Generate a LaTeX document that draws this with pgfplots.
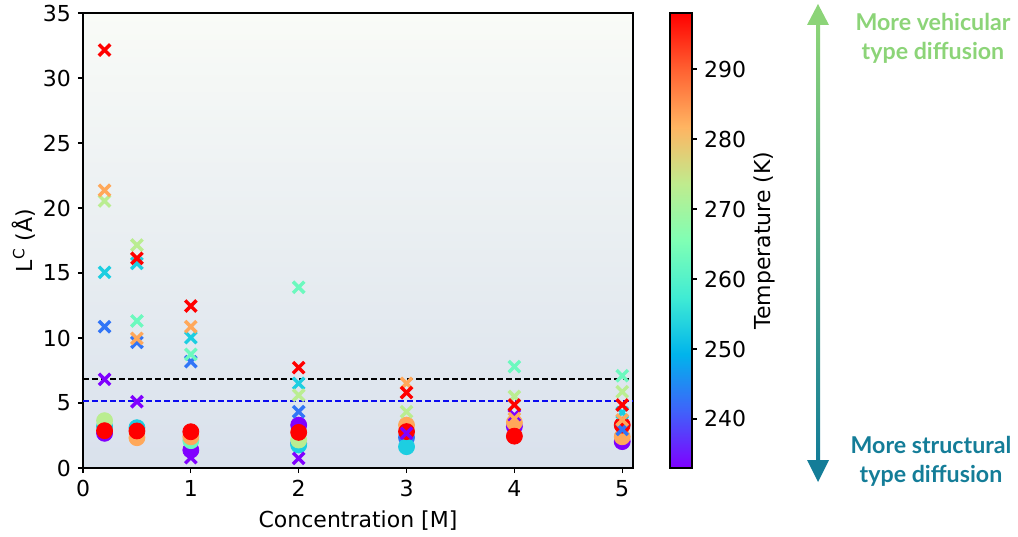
\documentclass[border=0pt]{standalone}
\usepackage{pgfplots}
\pgfplotsset{compat=1.18}
\usepackage{fontspec}
\setmainfont{DejaVu Sans}
\newfontfamily\annfont{Lato}
\definecolor{vehic}{RGB}{140,212,120}
\definecolor{struct}{RGB}{20,125,152}
\definecolor{bgtop}{RGB}{249,251,247}
\definecolor{bgmid}{RGB}{229,241,244}
\definecolor{bgbot}{RGB}{217,225,236}
\definecolor{dashblue}{RGB}{10,10,240}
\pgfplotsset{colormap={mplrainbow}{rgb=(0.5,0,1) rgb=(0.25,0.383,0.981) rgb=(0,0.707,0.924) rgb=(0.25,0.924,0.831) rgb=(0.5,1,0.707) rgb=(0.75,0.924,0.556) rgb=(1,0.707,0.383) rgb=(1,0.383,0.195) rgb=(1,0,0)}}

\pgfplotstableread{
x y T
0.2 2.67 233
1 1.38 233
2 3.30 233
4 3.20 233
5 2.03 233
2 1.90 243
3 2.35 243
0.2 3.20 253
0.5 3.10 253
2 1.77 253
3 1.64 253
1 2.10 263
0.2 3.64 273
2 2.15 273
0.5 2.33 283
1 2.40 283
3 3.30 283
4 3.50 283
5 2.40 283
0.2 2.87 298
0.5 2.85 298
1 2.79 298
2 2.74 298
3 2.80 298
4 2.45 298
5 3.30 298
}\circles

\pgfplotstableread{
x y T
0.2 6.82 233
0.5 5.10 233
1 0.80 233
2 0.74 233
3 2.67 233
4 4.05 233
0.2 10.87 243
0.5 9.67 243
1 8.18 243
2 4.33 243
5 2.97 243
0.2 15.05 253
0.5 15.74 253
1 10.03 253
2 6.51 253
5 4.26 253
0.5 11.31 263
1 8.74 263
2 13.90 263
4 7.80 263
5 7.10 263
0.2 20.54 273
0.5 17.15 273
2 5.60 273
3 4.33 273
4 5.50 273
5 5.87 273
0.2 21.36 283
0.5 9.97 283
1 10.87 283
3 6.51 283
4 3.80 283
5 3.70 283
0.2 32.15 298
0.5 16.13 298
1 12.46 298
2 7.72 298
3 5.80 298
4 4.85 298
5 4.85 298
}\crosses

\begin{document}
\begin{tikzpicture}
\path[use as bounding box] (0,0) rectangle (509pt,268pt);
\begin{axis}[
  at={(41.5pt,34pt)}, anchor=south west,
  width=275pt, height=227.5pt, scale only axis,
  xmin=0, xmax=5.1, ymin=0, ymax=35,
  xtick={0,1,2,3,4,5}, ytick={0,5,10,15,20,25,30,35},
  tick align=outside, tick pos=left,
  major tick length=2.5pt,
  every tick/.style={black, line width=0.6pt},
  axis line style={line width=0.7pt},
  font=\fontsize{11}{13}\selectfont,
  /pgf/number format/assume math mode=true,
  xlabel={Concentration [M]},
  ylabel={L\textsuperscript{C} (Å)},
  ylabel style={yshift=-3pt},
  axis background/.style={shade, top color=bgtop, middle color=bgmid, bottom color=bgbot},
  colormap name=mplrainbow,
  point meta min=233, point meta max=298,
  colorbar right,
  every colorbar/.append style={xshift=8.5pt},
  colorbar style={
    width=11pt,
    ytick={240,250,260,270,280,290},
    ytick pos=right,
    yticklabel pos=right,
    font=\fontsize{11}{13}\selectfont,
    /pgf/number format/assume math mode=true,
    /pgf/number format/1000 sep={},
    tick align=outside,
    major tick length=2.5pt,
    every tick/.style={black, line width=0.6pt},
    axis line style={line width=0.7pt},
    ylabel={Temperature (K)},
    ylabel style={yshift=3pt},
  },
]
\addplot[black, line width=0.8pt, dash pattern=on 3pt off 1.5pt, forget plot] coordinates {(0,6.85) (5.1,6.85)};
\addplot[color=dashblue, line width=0.9pt, dash pattern=on 3pt off 1.5pt, forget plot] coordinates {(0,5.13) (5.1,5.13)};
\addplot[scatter, only marks, mark=*, mark size=4pt,
  scatter/use mapped color={draw=mapped color, fill=mapped color},
  point meta=explicit] table[x=x, y=y, meta=T] {\circles};
\addplot[scatter, only marks, mark=x, mark size=4pt, line width=1.7pt,
  scatter/use mapped color={draw=mapped color},
  point meta=explicit] table[x=x, y=y, meta=T] {\crosses};
\end{axis}
\shade[top color=vehic, bottom color=struct] (408pt,255.5pt) rectangle (410pt,38pt);
\fill[vehic] (403.5pt,255.5pt) -- (414.5pt,255.5pt) -- (409pt,266pt) -- cycle;
\fill[struct] (403.5pt,38pt) -- (414.5pt,38pt) -- (409pt,27pt) -- cycle;
\node[align=center, text=vehic, font=\annfont\bfseries\fontsize{11.6}{14.5}\selectfont] at (466.5pt,249pt) {More vehicular\\type diffusion};
\node[align=center, text=struct, font=\annfont\bfseries\fontsize{11.6}{14.5}\selectfont] at (465.5pt,37.5pt) {More structural\\type diffusion};
\end{tikzpicture}
\end{document}
